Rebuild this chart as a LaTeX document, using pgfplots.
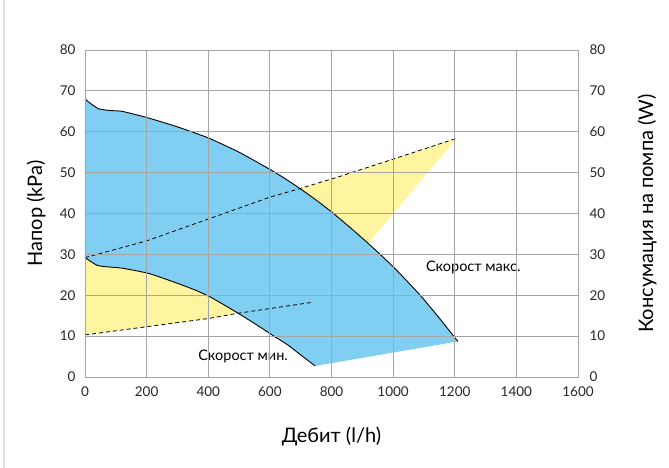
\documentclass[border=0pt]{standalone}
\usepackage{fontspec}
\setmainfont{Lato}
\usepackage{pgfplots}
\pgfplotsset{compat=1.18}
\definecolor{cblue}{RGB}{128,206,242}
\definecolor{cyell}{RGB}{255,244,160}
\definecolor{cgrid}{RGB}{165,165,165}
\begin{document}
\begin{tikzpicture}
\useasboundingbox (-85bp,-91bp) rectangle (584bp,377bp);
\draw[gray!25, line width=1.5bp] (-81bp,-91bp) -- (-81bp,377bp);
\begin{axis}[
  scale only axis,
  width=493bp, height=327bp,
  xmin=0, xmax=1600, ymin=0, ymax=80,
  xtick={0,200,...,1600}, ytick={0,10,...,80},
  grid=major,
  grid style={cgrid, line width=0.9bp},
  axis line style={cgrid, line width=0.9bp},
  major tick length=0pt,
  axis on top,
  /pgf/number format/assume math mode=true,
  /pgf/number format/1000 sep={},
  tick label style={font=\fontsize{13.5bp}{16bp}\selectfont, text=black!85},
  xticklabel style={yshift=-6bp},
  yticklabel style={xshift=-6bp},
  xlabel={Дебит (l/h)},
  ylabel={Напор (kPa)},
  label style={font=\fontsize{20bp}{24bp}\selectfont},
  xlabel style={at={(axis description cs:0.5,-0.183)}, anchor=center},
  ylabel style={at={(axis description cs:-0.099,0.5)}, anchor=center, rotate=0},
]
% blue region
\addplot[fill=cblue, draw=none] coordinates {
 (0,68) (20,66.8) (45,65.6) (81,65.2) (120,65.0) (200,63.5) (300,61.2) (400,58.5) (500,55) (600,50.8) (650,48.5) (698,46.1) (750,43.3) (805,40.1) (860,36.6) (919,32.7) (958,30.0) (1013,26.0) (1088,20.0) (1150,14.4) (1210,8.7)
 (747,2.7)
 (700,5.4) (659,7.8) (607,10.3) (550,13.1) (497,15.6) (450,17.7) (406,19.6) (360,21.2) (308,22.7) (260,24.0) (204,25.4) (123,26.6) (65,27.0) (40,27.3) (20,28.2) (0,29.2)
} -- cycle;
% upper yellow
\addplot[fill=cyell, draw=none] coordinates {
 (698,46.1) (828,49.1) (1000,53.3) (1206,58.4) (919,32.7) (860,36.6) (805,40.1) (750,43.3)
} -- cycle;
% lower yellow
\addplot[fill=cyell, draw=none] coordinates {
 (0,29.2) (20,28.2) (40,27.3) (65,27.0) (123,26.6) (204,25.4) (260,24.0) (308,22.7) (360,21.2) (406,19.6) (450,17.7) (497,15.6) (400,14.3) (200,12.3) (0,10.3)
} -- cycle;
% max curve
\addplot[black, line width=0.9bp, smooth, tension=0.3] coordinates {
 (0,68) (20,66.8) (45,65.6) (81,65.2) (120,65.0) (200,63.5) (300,61.2) (400,58.5) (500,55) (600,50.8) (650,48.5) (698,46.1) (750,43.3) (805,40.1) (860,36.6) (919,32.7) (958,30.0) (1013,26.0) (1088,20.0) (1150,14.4) (1210,8.7)
};
% min curve
\addplot[black, line width=0.9bp, smooth, tension=0.3] coordinates {
 (0,29.2) (20,28.2) (40,27.3) (65,27.0) (123,26.6) (204,25.4) (260,24.0) (308,22.7) (360,21.2) (406,19.6) (450,17.7) (497,15.6) (550,13.1) (607,10.3) (659,7.8) (700,5.4) (747,2.7)
};
% dashed power lines
\addplot[black, line width=0.8bp, dash pattern=on 4bp off 3bp] coordinates {
 (0,29.2) (200,33.3) (308,36.2) (406,38.8) (600,44) (698,46.1) (828,49.1) (1000,53.3) (1206,58.4)
};
\addplot[black, line width=0.8bp, dash pattern=on 4bp off 3bp] coordinates {
 (0,10.3) (200,12.3) (400,14.3) (497,15.6) (740,18.3)
};
\node[font=\fontsize{14.5bp}{17bp}\selectfont] at (axis cs:1260,26.9) {Скорост макс.};
\node[font=\fontsize{14.5bp}{17bp}\selectfont] at (axis cs:513,4.9) {Скорост мин.};
\end{axis}
\begin{axis}[
  scale only axis,
  width=493bp, height=327bp,
  xmin=0, xmax=1600, ymin=0, ymax=80,
  axis x line=none,
  axis y line*=right,
  axis line style={cgrid, line width=0.9bp},
  ytick={0,10,...,80},
  major tick length=0pt,
  /pgf/number format/assume math mode=true,
  tick label style={font=\fontsize{13.5bp}{16bp}\selectfont, text=black!85},
  yticklabel style={xshift=8bp},
  ylabel={Консумация на помпа (W)},
  label style={font=\fontsize{20bp}{24bp}\selectfont},
  ylabel style={at={(axis description cs:1.14,0.5)}, anchor=center, rotate=0},
]
\addplot[draw=none] coordinates {(0,0)};
\end{axis}
\end{tikzpicture}
\end{document}
